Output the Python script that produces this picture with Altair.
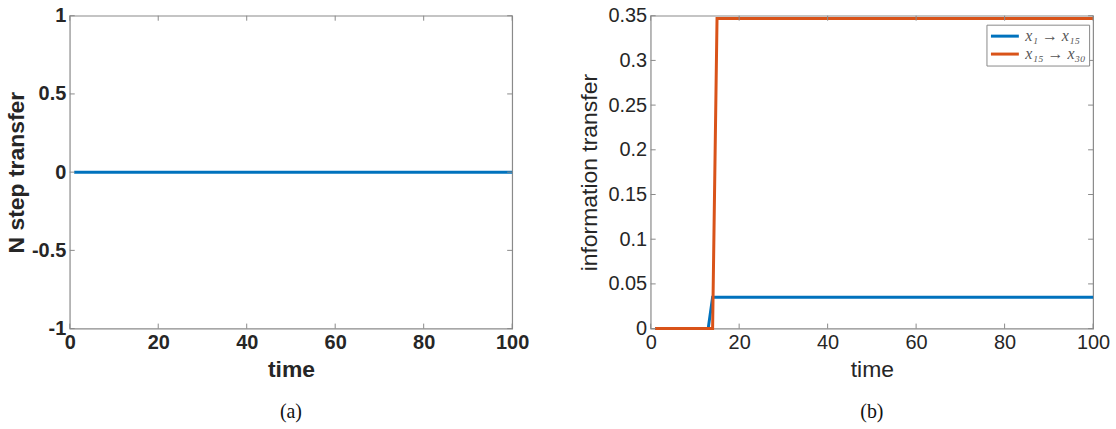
import altair as alt
import pandas as pd

# ---------------- data ----------------
# panel (a): N step transfer (flat zero)
a_time = [1, 100]
a_value = [0, 0]

# panel (b): information transfer
b1_time = [1, 13, 14, 100]
b1_value = [0, 0, 0.035, 0.035]
b2_time = [1, 14, 15, 100]
b2_value = [0, 0, 0.347, 0.347]
series_names = ["x\u2081 \u2192 x\u2081\u2085", "x\u2081\u2085 \u2192 x\u2083\u2080"]

x_ticks = [0, 20, 40, 60, 80, 100]
a_y_ticks = [-1, -0.5, 0, 0.5, 1]
b_y_ticks = [0, 0.05, 0.1, 0.15, 0.2, 0.25, 0.3, 0.35]

BLUE = "#0072BD"
ORANGE = "#D95319"
FRAME = "#8a8a8a"
TXT = "#262626"
W, H = 444, 314

df_a = pd.DataFrame({"time": a_time, "value": a_value})
df_b = pd.concat([
    pd.DataFrame({"time": b1_time, "value": b1_value, "series": series_names[0]}),
    pd.DataFrame({"time": b2_time, "value": b2_value, "series": series_names[1]}),
])
df_xt = pd.DataFrame({"time": x_ticks})
df_yta = pd.DataFrame({"value": a_y_ticks})
df_ytb = pd.DataFrame({"value": b_y_ticks})

label_expr = "replace(format(datum.value, '~g'), '\u2212', '-')"


def axis(weight, title, values, title_pad):
    return alt.Axis(
        values=values, labelExpr=label_expr, title=title,
        labelFont="Liberation Sans", labelFontSize=20, labelFontWeight=weight,
        labelColor=TXT, labelPadding=4, labelFlush=False, labelOverlap=False,
        titleFont="Liberation Sans", titleFontSize=23, titleFontWeight=weight,
        titleColor=TXT, titlePadding=title_pad,
        domain=False, ticks=False, grid=False,
    )


def panel(main, xscale, yscale, xaxis, yaxis, yticks_df, caption):
    rule = dict(color=FRAME, strokeWidth=1)
    xb = alt.Chart(df_xt).mark_rule(**rule).encode(
        x=alt.X("time:Q", scale=xscale, axis=xaxis), y=alt.value(H), y2=alt.value(H - 5))
    xt = alt.Chart(df_xt).mark_rule(**rule).encode(
        x=alt.X("time:Q", scale=xscale, axis=xaxis), y=alt.value(0), y2=alt.value(5))
    yl = alt.Chart(yticks_df).mark_rule(**rule).encode(
        y=alt.Y("value:Q", scale=yscale, axis=yaxis), x=alt.value(0), x2=alt.value(5))
    yr = alt.Chart(yticks_df).mark_rule(**rule).encode(
        y=alt.Y("value:Q", scale=yscale, axis=yaxis), x=alt.value(W), x2=alt.value(W - 5))
    return alt.layer(main, xb, xt, yl, yr).properties(
        width=W, height=H,
        title=alt.Title(caption, orient="bottom", font="Liberation Serif", fontSize=20,
                        fontWeight="normal", color="#111111", offset=21),
    )


# ---------------- panel (a) ----------------
xs_a = alt.Scale(domain=[0, 100], nice=False)
ys_a = alt.Scale(domain=[-1, 1], nice=False)
xax_a = axis("bold", "time", x_ticks, 6)
yax_a = axis("bold", "N step transfer", a_y_ticks, 3)
line_a = alt.Chart(df_a).mark_line(color=BLUE, strokeWidth=3).encode(
    x=alt.X("time:Q", scale=xs_a, axis=xax_a),
    y=alt.Y("value:Q", scale=ys_a, axis=yax_a),
)
panel_a = panel(line_a, xs_a, ys_a, xax_a, yax_a, df_yta, "(a)")

# ---------------- panel (b) ----------------
xs_b = alt.Scale(domain=[0, 100], nice=False)
ys_b = alt.Scale(domain=[0, 0.35], nice=False)
xax_b = axis("normal", "time", x_ticks, 6)
yax_b = axis("normal", "information transfer", b_y_ticks, 6)
line_b = alt.Chart(df_b).mark_line(strokeWidth=3).encode(
    x=alt.X("time:Q", scale=xs_b, axis=xax_b),
    y=alt.Y("value:Q", scale=ys_b, axis=yax_b),
    color=alt.Color(
        "series:N",
        scale=alt.Scale(domain=series_names, range=[BLUE, ORANGE]),
        legend=alt.Legend(
            title=None, orient="none", legendX=337, legendY=9,
            fillColor="white", strokeColor=FRAME, padding=3,
            symbolType="M-1,0H3", symbolSize=196, symbolStrokeWidth=3,
            labelFont="Liberation Serif", labelFontStyle="italic", labelFontSize=16,
            labelColor="#555555", rowPadding=1, labelOffset=19,
        ),
    ),
)
panel_b = panel(line_b, xs_b, ys_b, xax_b, yax_b, df_ytb, "(b)")

chart = alt.hconcat(panel_a, panel_b, spacing=48).resolve_scale(
    color="independent"
).resolve_legend(color="independent").properties(
    padding={"left": 4, "top": 4, "right": 5, "bottom": 5},
    background="white",
).configure_view(stroke=FRAME, strokeWidth=1.2)

chart.save("out.html", embed_options={"renderer": "svg", "actions": False})
